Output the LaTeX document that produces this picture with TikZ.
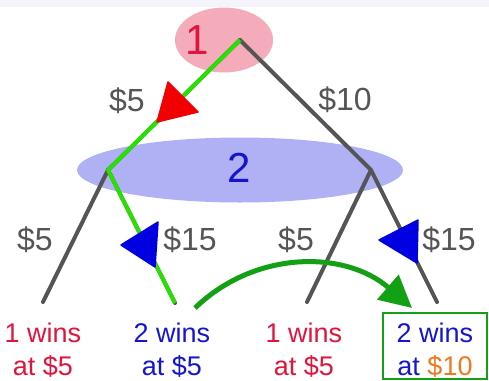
\documentclass[tikz,border=0pt]{standalone}
\usepackage{fontspec}
\setmainfont{Liberation Sans}
\usetikzlibrary{shapes.geometric,arrows.meta}
\definecolor{bandgray}{RGB}{244,244,250}
\definecolor{pinkfill}{RGB}{245,172,186}
\definecolor{bluefill}{RGB}{176,176,245}
\definecolor{redtext}{RGB}{225,20,60}
\definecolor{bluetext}{RGB}{20,20,210}
\definecolor{edgegray}{RGB}{85,85,85}
\definecolor{limegreen}{RGB}{40,225,0}
\definecolor{darkgreen}{RGB}{20,160,20}
\definecolor{orangetext}{RGB}{240,120,30}
\definecolor{trired}{RGB}{240,0,0}
\definecolor{triblue}{RGB}{0,0,225}
\tikzset{
  grayedge/.style={draw=edgegray, line width=4pt, line cap=round, line join=round},
  greenpath/.style={draw=limegreen, line width=4pt, line join=round},
  edgelabel/.style={text=edgegray, font=\fontsize{32}{32}\selectfont, inner sep=0pt},
  bignum/.style={font=\fontsize{42}{42}\selectfont, inner sep=0pt},
  leaftext/.style={align=center, font=\fontsize{27}{33}\selectfont, inner sep=0pt},
  tri/.style={line width=1.5pt, line join=round},
}
\begin{document}
\begin{tikzpicture}[x=1pt,y=-1pt]
\useasboundingbox (0,0) rectangle (489,380);
\fill[bandgray] (0,0) rectangle (489,7);
% ellipses
\node[ellipse, fill=pinkfill, minimum width=98pt, minimum height=65pt, inner sep=0pt] (e1) at (224,40) {};
\node[ellipse, fill=bluefill, minimum width=326pt, minimum height=65pt, inner sep=0pt] (e2) at (240,170) {};
\node[bignum, text=redtext] (n1) at (197,40) {1};
\node[bignum, text=bluetext] (n2) at (239,168) {2};
% tree vertices
\coordinate (root) at (240,40);
\coordinate (L) at (108,170);
\coordinate (R) at (371,170);
\coordinate (LL) at (43,302);
\coordinate (LR) at (175,303);
\coordinate (RL) at (307,302);
\coordinate (RR) at (437,302);
% gray edges
\draw[grayedge] (root) -- (L) -- (LL);
\draw[grayedge] (L) -- (LR);
\draw[grayedge] (root) -- (R) -- (RL);
\draw[grayedge] (R) -- (RR);
% green path
\draw[greenpath] (root) -- (L) -- (LR);
% triangles
\filldraw[tri, fill=trired, draw=trired] (168,82) -- (198,112) -- (157,122) -- cycle;
\filldraw[tri, fill=triblue, draw=triblue] (121,245) -- (158,222) -- (155,267) -- cycle;
\filldraw[tri, fill=triblue, draw=triblue] (379,240) -- (418,220) -- (417,263) -- cycle;
% edge labels
\node[edgelabel] (l1) at (127,101) {\$5};
\node[edgelabel] (l2) at (345,100) {\$10};
\node[edgelabel] (l3) at (35,240) {\$5};
\node[edgelabel] (l4) at (190,240) {\$15};
\node[edgelabel] (l5) at (296,240) {\$5};
\node[edgelabel] (l6) at (449,240) {\$15};
% leaves
\node[leaftext, text=redtext] (t1) at (43,350) {1 wins\\at \$5};
\node[leaftext, text=bluetext] (t2) at (172,350) {2 wins\\at \$5};
\node[leaftext, text=redtext] (t3) at (304,350) {1 wins\\at \$5};
\node[draw=darkgreen, line width=2pt, minimum width=104pt, minimum height=66pt, inner sep=0pt] (box4) at (435,346) {};
\node[leaftext, text=bluetext] (t4) at (435,350) {2 wins\\at \textcolor{orangetext}{\$10}};
% green curved arrow
\coordinate (gs) at (195,308);
\coordinate (ge) at (412,308);
\draw[darkgreen, line width=5pt, -{Triangle[length=32pt,width=32pt]}] (gs) .. controls (255,250) and (345,250) .. (ge);
\end{tikzpicture}
\end{document}
